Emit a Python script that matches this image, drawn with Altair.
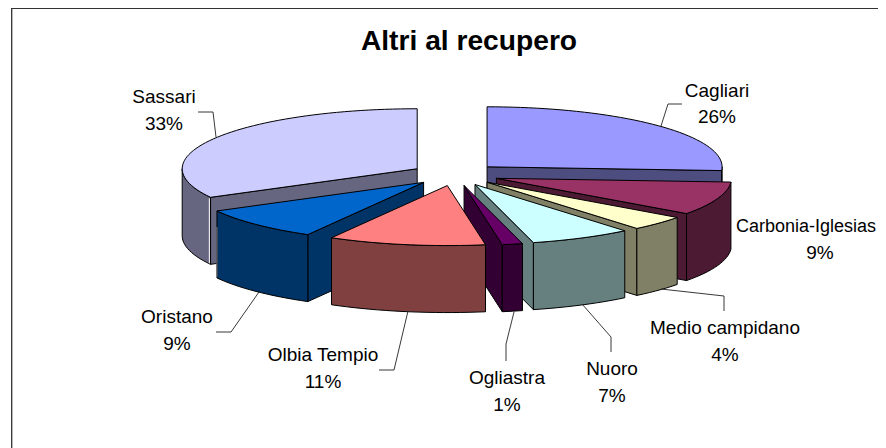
import math
import altair as alt
import pandas as pd

# ---- chart values ----
NAMES = ["Cagliari", "Carbonia-Iglesias", "Medio campidano", "Nuoro",
         "Ogliastra", "Olbia Tempio", "Oristano", "Sassari"]
SHARES = [26.0, 9.0, 4.0, 7.0, 1.4, 10.8, 8.9, 32.9]
SHOWN = ["26%", "9%", "4%", "7%", "1%", "11%", "9%", "33%"]
TOPS = ["#9999FF", "#993366", "#FFFFCC", "#CCFFFF", "#660066", "#FF8080", "#0066CC", "#CCCCFF"]
WALLS = ["#4D4D80", "#4D1A33", "#808066", "#668080", "#330033", "#804040", "#003366", "#666680"]
TITLE = "Altri al recupero"

# ---- layout (picture pixels) ----
CX, CY, RX, RY, EXPLODE, DEPTH = 455.0, 174.5, 235.0, 60.0, 44.0, 67.0
PAINT_ORDER = [7, 0, 1, 2, 3, 4, 6, 5]
LABEL_POS = [(717, 97, 123), (806, 232, 259), (725, 334, 361), (612, 375, 402),
             (507, 384, 411), (323, 361, 388), (177, 323, 350), (164, 103, 130)]
LEADERS = [
    [(682, 104), (668, 104), (661, 126)],
    [(661, 289), (724, 296), (724, 311)],
    [(582, 304), (611, 337), (611, 352)],
    [(514, 312), (506, 344), (506, 361)],
    [(408, 311), (394, 370), (379, 370)],
    [(259, 292), (231, 332), (216, 332)],
    [(198, 112), (213, 112), (216, 137)],
]

SX = alt.Scale(domain=[8, 878], nice=False, zero=False)
SY = alt.Scale(domain=[8, 448], nice=False, zero=False, reverse=True)
X = alt.X("x:Q", scale=SX, axis=None)
Y = alt.Y("y:Q", scale=SY, axis=None)


def path(points, **mark):
    df = pd.DataFrame({"x": [p[0] for p in points], "y": [p[1] for p in points],
                       "i": list(range(len(points)))})
    return alt.Chart(df).mark_line(**mark).encode(x=X, y=Y, order="i:Q")


def poly(points, fill):
    return path(list(points) + [points[0]], fill=fill, stroke="black", strokeWidth=1, strokeJoin="round")


def rim(ax, ay, deg):
    r = math.radians(deg)
    return (ax + RX * math.sin(r), ay - RY * math.cos(r))


def arc_pts(ax, ay, a, b):
    n = max(2, int(abs(b - a) / 2) + 1)
    return [rim(ax, ay, a + (b - a) * j / (n - 1)) for j in range(n)]


def down(p):
    return (p[0], p[1] + DEPTH)


layers = []

# frame, cut by the edge of the picture
layers.append(path([(11.7, 448), (11.7, 8.4), (878, 8.4)], stroke="#333333", strokeWidth=1.3))

# slices
starts, t = [], 0.0
for s in SHARES:
    starts.append(t)
    t += s * 3.6

for k in PAINT_ORDER:
    a = starts[k]
    b = a + SHARES[k] * 3.6
    m = math.radians((a + b) / 2)
    ax = CX + EXPLODE * math.sin(m)
    ay = CY - EXPLODE * math.cos(m) * RY / RX
    apex = (ax, ay)
    M = rim(0, 0, (a + b) / 2)
    for cut in (a, b):
        E = rim(0, 0, cut)
        if abs(E[0]) < 1:
            continue
        cross = E[0] * M[1] - E[1] * M[0]
        if cross * E[0] < 0:
            P = rim(ax, ay, cut)
            layers.append(poly([apex, P, down(P), down(apex)], WALLS[k]))
    lo, hi = max(a, 90.0), min(b, 270.0)
    if hi > lo:
        top_edge = arc_pts(ax, ay, lo, hi)
        layers.append(poly(top_edge + [down(p) for p in reversed(top_edge)], WALLS[k]))
    layers.append(poly([apex] + arc_pts(ax, ay, a, b), TOPS[k]))
    if NAMES[k] == "Sassari":
        P = rim(ax, ay, a)
        layers.append(path([(P[0] - 1.2, P[1] + 1), (P[0] - 1.2, P[1] + DEPTH - 1)], stroke="white", strokeWidth=1))
    if NAMES[k] == "Oristano":
        P = rim(ax, ay, b)
        layers.append(path([(P[0], P[1] + 16), (P[0], P[1] + DEPTH - 1)], stroke="#808080", strokeWidth=1))

# leader lines
for line in LEADERS:
    layers.append(path(line, stroke="#222222", strokeWidth=0.9))

# labels
rows = []
for name, shown, (lx, y1, y2) in zip(NAMES, SHOWN, LABEL_POS):
    rows.append({"x": lx, "y": y1, "t": name, "fs": 18 if name == "Carbonia-Iglesias" else 19})
    rows.append({"x": 820 if name == "Carbonia-Iglesias" else lx, "y": y2, "t": shown, "fs": 19})
layers.append(alt.Chart(pd.DataFrame(rows)).mark_text(
    font="Liberation Sans", color="black", align="center", baseline="alphabetic"
).encode(x=X, y=Y, text="t:N", size=alt.Size("fs:Q", scale=None, legend=None)))

# title
layers.append(alt.Chart(pd.DataFrame({"x": [469], "y": [50], "t": [TITLE]})).mark_text(
    font="Liberation Sans", fontSize=28.2, fontWeight="bold", color="black", align="center", baseline="alphabetic"
).encode(x=X, y=Y, text="t:N"))

chart = alt.layer(*layers).properties(
    width=870, height=440, padding=0, autosize=alt.AutoSizeParams(type="none"), background="white"
).configure_view(stroke=None)

chart.save("out.html", embed_options={"renderer": "svg", "actions": False})
